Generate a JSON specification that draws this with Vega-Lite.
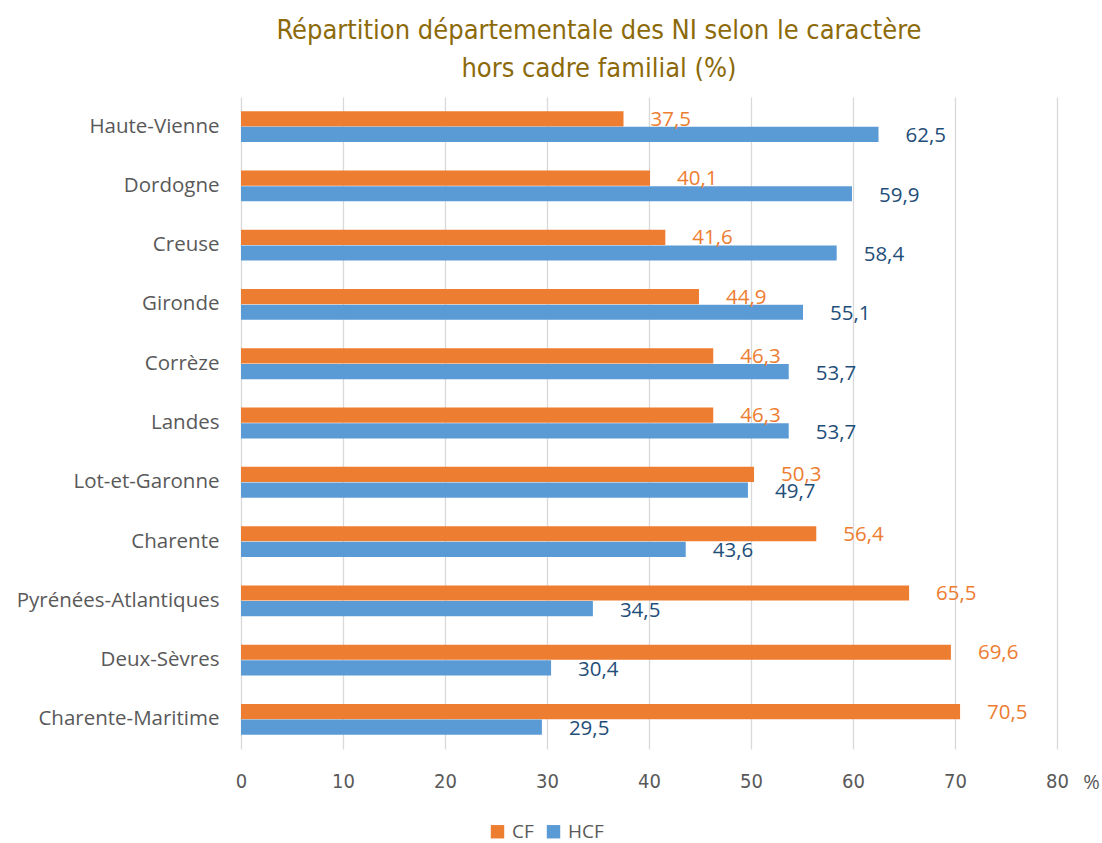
{
  "$schema": "https://vega.github.io/schema/vega-lite/v6.json",
  "width": 816,
  "height": 652,
  "autosize": {"type": "none"},
  "padding": {"left": 241, "top": 97, "right": 45, "bottom": 94},
  "background": "white",
  "title": {
    "text": ["Répartition départementale des NI selon le caractère", "hors cadre familial (%)"],
    "font": "DejaVu Sans Condensed, Liberation Sans, sans-serif",
    "fontSize": 27,
    "fontWeight": "normal",
    "color": "#8C6A0A",
    "anchor": "middle",
    "frame": "group",
    "dx": -50,
    "offset": 14,
    "lineHeight": 38
  },
  "config": {
    "locale": {"number": {"decimal": ",", "thousands": " ", "grouping": [3], "currency": ["", " €"]}},
    "view": {"stroke": null}
  },
  "data": {
    "values": [
      {"dep": "Haute-Vienne", "serie": "CF", "value": 37.5},
      {"dep": "Haute-Vienne", "serie": "HCF", "value": 62.5},
      {"dep": "Dordogne", "serie": "CF", "value": 40.1},
      {"dep": "Dordogne", "serie": "HCF", "value": 59.9},
      {"dep": "Creuse", "serie": "CF", "value": 41.6},
      {"dep": "Creuse", "serie": "HCF", "value": 58.4},
      {"dep": "Gironde", "serie": "CF", "value": 44.9},
      {"dep": "Gironde", "serie": "HCF", "value": 55.1},
      {"dep": "Corrèze", "serie": "CF", "value": 46.3},
      {"dep": "Corrèze", "serie": "HCF", "value": 53.7},
      {"dep": "Landes", "serie": "CF", "value": 46.3},
      {"dep": "Landes", "serie": "HCF", "value": 53.7},
      {"dep": "Lot-et-Garonne", "serie": "CF", "value": 50.3},
      {"dep": "Lot-et-Garonne", "serie": "HCF", "value": 49.7},
      {"dep": "Charente", "serie": "CF", "value": 56.4},
      {"dep": "Charente", "serie": "HCF", "value": 43.6},
      {"dep": "Pyrénées-Atlantiques", "serie": "CF", "value": 65.5},
      {"dep": "Pyrénées-Atlantiques", "serie": "HCF", "value": 34.5},
      {"dep": "Deux-Sèvres", "serie": "CF", "value": 69.6},
      {"dep": "Deux-Sèvres", "serie": "HCF", "value": 30.4},
      {"dep": "Charente-Maritime", "serie": "CF", "value": 70.5},
      {"dep": "Charente-Maritime", "serie": "HCF", "value": 29.5}
    ]
  },
  "encoding": {
    "y": {
      "field": "dep",
      "type": "nominal",
      "sort": null,
      "scale": {"paddingInner": 0.48, "paddingOuter": 0.24},
      "axis": {
        "title": null,
        "ticks": false,
        "domain": false,
        "labelFont": "Open Sans",
        "labelFontSize": 20.5,
        "labelColor": "#595959",
        "labelPadding": 22,
        "labelLimit": 400
      }
    },
    "yOffset": {"field": "serie", "type": "nominal", "sort": ["CF", "HCF"], "scale": {"paddingInner": 0.03}},
    "x": {
      "field": "value",
      "type": "quantitative",
      "scale": {"domain": [0, 80], "nice": false},
      "axis": {
        "values": [0, 10, 20, 30, 40, 50, 60, 70, 80],
        "title": "%",
        "titleFont": "Open Sans",
        "titleFontSize": 20,
        "titleFontWeight": "normal",
        "titleColor": "#595959",
        "titleAngle": 0,
        "titleX": 850,
        "titleY": 33,
        "titleAlign": "center",
        "titleBaseline": "middle",
        "ticks": false,
        "domain": false,
        "grid": true,
        "gridColor": "#D9D9D9",
        "gridWidth": 1.3,
        "labelFlush": false,
        "labelFont": "DejaVu Sans Condensed, Liberation Sans, sans-serif",
        "labelFontSize": 20,
        "labelColor": "#595959",
        "labelPadding": 22
      }
    }
  },
  "layer": [
    {
      "mark": {"type": "bar"},
      "encoding": {
        "color": {
          "field": "serie",
          "type": "nominal",
          "scale": {"domain": ["CF", "HCF"], "range": ["#ED7D31", "#5B9BD5"]},
          "legend": {
            "title": null,
            "orient": "none",
            "direction": "horizontal",
            "legendX": 247,
            "legendY": 725,
            "symbolType": "square",
            "symbolSize": 180,
            "symbolStrokeWidth": 0,
            "labelFont": "Open Sans",
            "labelFontSize": 19,
            "labelColor": "#595959",
            "columnPadding": 10,
            "labelOffset": 5
          }
        }
      }
    },
    {
      "transform": [{"filter": "datum.serie == 'CF'"}],
      "mark": {"type": "text", "align": "left", "baseline": "middle", "dx": 27, "dy": 1, "font": "Open Sans", "fontSize": 20.5, "color": "#ED7D31"},
      "encoding": {"text": {"field": "value", "type": "quantitative", "format": ".1f"}}
    },
    {
      "transform": [{"filter": "datum.serie == 'HCF'"}],
      "mark": {"type": "text", "align": "left", "baseline": "middle", "dx": 27, "dy": 2, "font": "Open Sans", "fontSize": 20.5, "color": "#1F4E79"},
      "encoding": {"text": {"field": "value", "type": "quantitative", "format": ".1f"}}
    }
  ]
}
